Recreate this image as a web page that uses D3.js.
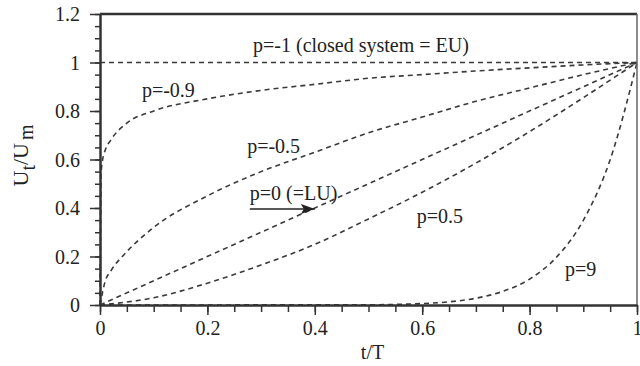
<!DOCTYPE html>
<html>
<head>
<meta charset="utf-8">
<script src="https://cdn.jsdelivr.net/npm/d3@7"></script>
<style>
  body { margin: 0; background: #fff; }
  svg text { font-family: "Liberation Serif", "Times New Roman", serif; fill: #222; }
  .curve { fill: none; stroke: #3a3a3a; stroke-width: 1.6; stroke-dasharray: 5,4; }
  .axis path, .axis line { stroke: #333; }
</style>
</head>
<body>
<svg id="chart" width="640" height="366"></svg>
<script>
// Series: [t/T, Ut/Um]
const curveEU = [[0, 1], [1, 1]];
const curveM09 = [[0, 0], [0.001, 0.3], [0.002, 0.54], [0.005, 0.6], [0.01, 0.64], [0.02, 0.68], [0.05, 0.75],
    [0.1, 0.8], [0.2, 0.85], [0.3, 0.885], [0.4, 0.91], [0.5, 0.935], [0.6, 0.95], [0.7, 0.965],
    [0.8, 0.978], [0.9, 0.99], [1, 1]];
const curveM05 = [[0, 0], [0.01, 0.1], [0.02, 0.14], [0.05, 0.22], [0.1, 0.32], [0.2, 0.45], [0.3, 0.55],
    [0.4, 0.63], [0.5, 0.71], [0.6, 0.775], [0.7, 0.84], [0.8, 0.895], [0.9, 0.95], [1, 1]];
const curveLU = [[0, 0], [0.5, 0.5], [1, 1]];
const curveP05 = [[0, 0], [0.1, 0.03], [0.2, 0.09], [0.3, 0.165], [0.4, 0.25], [0.5, 0.355], [0.6, 0.465],
    [0.7, 0.585], [0.8, 0.715], [0.9, 0.855], [1, 1]];
const curveP9 = [[0, 0], [0.5, 0.001], [0.6, 0.006], [0.65, 0.013], [0.7, 0.028], [0.75, 0.056],
    [0.8, 0.107], [0.85, 0.197], [0.9, 0.349], [0.95, 0.599], [1, 1]];

const xTicks = [0, 0.2, 0.4, 0.6, 0.8, 1];
const yTicks = [0, 0.2, 0.4, 0.6, 0.8, 1, 1.2];
const minorTicks = d3.range(0, 1.2001, 0.05);

// Labels: text, anchor point in data units
const labels = [
    { text: 'p=-1 (closed system = EU)', x: 0.285, y: 1.043 },
    { text: 'p=-0.9', x: 0.078, y: 0.858 },
    { text: 'p=-0.5', x: 0.274, y: 0.627 },
    { text: 'p=0 (=LU)', x: 0.279, y: 0.433 },
    { text: 'p=0.5', x: 0.59, y: 0.338 },
    { text: 'p=9', x: 0.866, y: 0.12 }
];
const arrow = { x1: 0.279, x2: 0.4, y: 0.396 };

const svg = d3.select('#chart');
const margin = { top: 14, right: 3, bottom: 61, left: 100 };
const width = 640 - margin.left - margin.right;
const height = 366 - margin.top - margin.bottom;

const g = svg.append('g').attr('transform', `translate(${margin.left},${margin.top})`);

const x = d3.scaleLinear().domain([0, 1]).range([0, width]);
const y = d3.scaleLinear().domain([0, 1.2]).range([height, 0]);

const line = d3.line().x(d => x(d[0])).y(d => y(d[1])).curve(d3.curveMonotoneX);

// Curves
[curveEU, curveM09, curveM05, curveLU, curveP05, curveP9].forEach(c => {
    g.append('path').datum(c).attr('class', 'curve').attr('d', line);
});

// Frame (top and right)
g.append('line').attr('x1', 0).attr('x2', width).attr('y1', 0).attr('y2', 0)
    .attr('stroke', '#333').attr('stroke-width', 2.5);
g.append('line').attr('x1', width).attr('x2', width).attr('y1', 0).attr('y2', height)
    .attr('stroke', '#666').attr('stroke-width', 1.5);

// Minor ticks
g.append('g').attr('class', 'axis')
    .call(d3.axisLeft(y).tickValues(minorTicks).tickSize(5).tickFormat(''))
    .call(s => s.select('.domain').remove())
    .selectAll('line').attr('stroke-width', 1.5);
g.append('g').attr('class', 'axis')
    .attr('transform', `translate(0,${height})`)
    .call(d3.axisBottom(x).tickValues(d3.range(0, 1.0001, 0.05)).tickSize(7).tickFormat(''))
    .call(s => s.select('.domain').remove())
    .selectAll('line').attr('stroke-width', 1.5);

// Major ticks + labels
const yAxis = g.append('g').attr('class', 'axis')
    .call(d3.axisLeft(y).tickValues(yTicks).tickSize(10).tickSizeOuter(0).tickPadding(10)
        .tickFormat(d => d3.format('~g')(d)));
yAxis.select('.domain').attr('stroke-width', 2.5);
yAxis.selectAll('line').attr('stroke-width', 1.5);
yAxis.selectAll('text').style('font-size', '20px').attr('dy', '0.34em');

const xAxis = g.append('g').attr('class', 'axis')
    .attr('transform', `translate(0,${height})`)
    .call(d3.axisBottom(x).tickValues(xTicks).tickSize(10).tickSizeOuter(0).tickPadding(6)
        .tickFormat(d => d3.format('~g')(d)));
xAxis.select('.domain').attr('stroke-width', 2.5);
xAxis.selectAll('line').attr('stroke-width', 1.5);
xAxis.selectAll('text').style('font-size', '20px');

// Axis titles
g.append('text')
    .attr('x', width / 2 + 4)
    .attr('y', height + 54)
    .attr('text-anchor', 'middle')
    .style('font-size', '20px')
    .text('t/T');

const yTitle = g.append('text')
    .attr('transform', `translate(${-72},${height / 2 - 4}) rotate(-90)`)
    .attr('text-anchor', 'middle')
    .style('font-size', '22px');
yTitle.append('tspan').text('U');
yTitle.append('tspan').attr('dy', 7).style('font-size', '20px').text('t');
yTitle.append('tspan').attr('dy', -7).text('/U');
yTitle.append('tspan').attr('dy', 5).attr('dx', 3).style('font-size', '20px').text('m');

// Curve labels
labels.forEach(l => {
    g.append('text')
        .attr('x', x(l.x))
        .attr('y', y(l.y))
        .style('font-size', '20px')
        .text(l.text);
});

// Arrow
svg.append('defs').append('marker')
    .attr('id', 'head')
    .attr('viewBox', '0 0 14 10')
    .attr('refX', 14).attr('refY', 5)
    .attr('markerWidth', 14).attr('markerHeight', 10)
    .attr('markerUnits', 'userSpaceOnUse')
    .attr('orient', 'auto')
    .append('path').attr('d', 'M0,0 L14,5 L0,10 L3,5 Z').attr('fill', '#222');

g.append('line')
    .attr('x1', x(arrow.x1)).attr('x2', x(arrow.x2))
    .attr('y1', y(arrow.y)).attr('y2', y(arrow.y))
    .attr('stroke', '#222').attr('stroke-width', 1.5)
    .attr('marker-end', 'url(#head)');
</script>
</body>
</html>
